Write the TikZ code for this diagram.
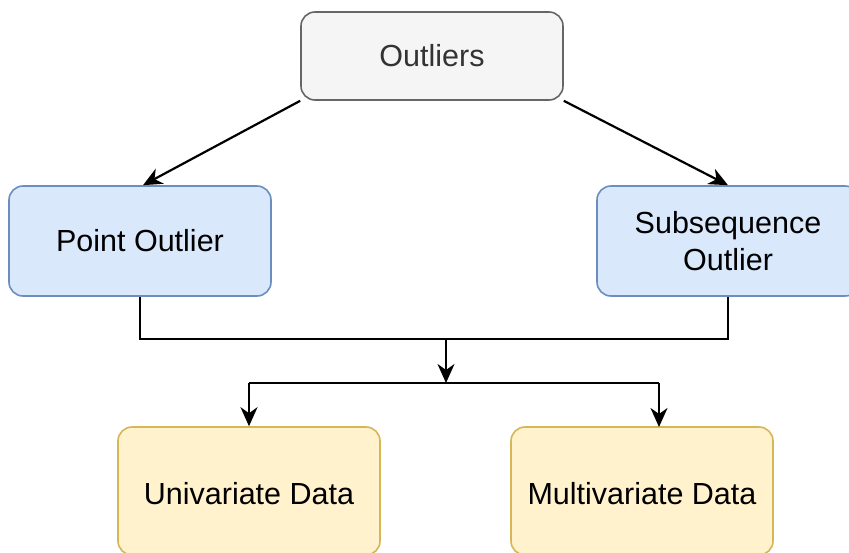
\documentclass[tikz,border=0pt]{standalone}
\usepackage{fontspec}
\setmainfont{Liberation Sans}
\usetikzlibrary{arrows.meta}
\definecolor{grayfill}{HTML}{F5F5F5}
\definecolor{graydraw}{HTML}{666666}
\definecolor{grayText}{HTML}{333333}
\definecolor{bluefill}{HTML}{DAE8FC}
\definecolor{bluedraw}{HTML}{6C8EBF}
\definecolor{yellowfill}{HTML}{FFF2CC}
\definecolor{yellowdraw}{HTML}{D6B656}
\tikzset{
  boxfont/.style={font=\fontsize{30.5}{37}\selectfont},
  box/.style={rectangle, rounded corners=14pt, line width=1.6pt, inner sep=0pt, align=center, boxfont},
  graybox/.style={box, fill=grayfill, draw=graydraw, text=grayText},
  bluebox/.style={box, fill=bluefill, draw=bluedraw},
  yellowbox/.style={box, fill=yellowfill, draw=yellowdraw},
  conn/.style={line width=2.2pt, draw=black, -{Stealth[length=19pt,width=17pt,inset=6pt]}},
  plain/.style={line width=2.2pt, draw=black},
}
\begin{document}
\begin{tikzpicture}[x=1pt,y=-1pt]
\useasboundingbox (0,0) rectangle (849,552);
\clip (0,0) rectangle (849,552);
\fill[white] (0,0) rectangle (849,552);
\node[graybox, minimum width=262pt, minimum height=88pt] (out) at (432,56) {Outliers};
\node[bluebox, minimum width=262pt, minimum height=110pt] (pt) at (140,241) {Point Outlier};
\node[bluebox, minimum width=262pt, minimum height=110pt] (sub) at (728,241) {Subsequence\\Outlier};
\node[yellowbox, minimum width=262pt, minimum height=128pt] (uni) at (249,491) {};
\node[yellowbox, minimum width=262pt, minimum height=128pt] (multi) at (642,491) {};
\node[boxfont] (unit) at (249,494) {Univariate Data};
\node[boxfont] (multit) at (642,494) {Multivariate Data};
\coordinate (j1) at (446,339);
\coordinate (j2) at (446,383);
\draw[conn] (out.south west) -- (pt.north -| 143,0);
\draw[conn] (out.south east) -- (sub.north);
\draw[plain] (pt.south) |- (j1) -| (sub.south);
\draw[conn] (j1) -- (j2);
\draw[plain] (j2 -| uni.north) -- (j2 -| 659,0);
\draw[conn] (j2 -| uni.north) -- (uni.north);
\draw[conn] (j2 -| 659,0) -- (659,427);
\end{tikzpicture}
\end{document}
